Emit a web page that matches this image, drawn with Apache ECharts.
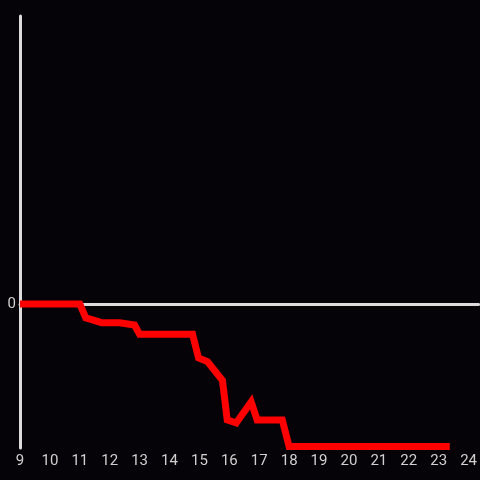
<!DOCTYPE html>
<html>
<head>
<meta charset="utf-8">
<script src="https://cdn.jsdelivr.net/npm/echarts@6/dist/echarts.min.js"></script>
<style>html,body{margin:0;padding:0;background:#050307;}#c{width:480px;height:480px;}</style>
</head>
<body>
<div id="c"></div>
<script>
var hours = [9, 11.0, 11.2, 11.73, 12.33, 12.83, 13.0, 14.77, 14.97, 15.27, 15.77, 15.93, 16.23, 16.73, 16.93, 17.77, 18.0, 23.37];
var values = [0, 0, -0.097, -0.13, -0.13, -0.146, -0.21, -0.21, -0.375, -0.40, -0.53, -0.805, -0.826, -0.68, -0.805, -0.805, -0.99, -0.99];
var xMin = 9, xMax = 24.333;
var yMin = -1, yMax = 2;

var chart = echarts.init(document.getElementById('c'), null, {renderer: 'canvas'});
var labelColor = '#d0d0d0';
chart.setOption({
  backgroundColor: '#050307',
  animation: false,
  grid: {left: 20, right: 0, top: 16, bottom: 32},
  xAxis: [{
    type: 'value', min: xMin, max: xMax, interval: 1,
    axisLine: {show: true, onZero: true, lineStyle: {color: '#dcdcdc', width: 3}},
    axisTick: {show: false}, axisLabel: {show: false}, splitLine: {show: false}
  }, {
    type: 'value', min: xMin, max: xMax, interval: 1, position: 'bottom',
    axisLine: {show: false, onZero: false}, axisTick: {show: false}, splitLine: {show: false},
    axisLabel: {show: true, color: labelColor, fontSize: 15, margin: 6, showMaxLabel: false,
      fontFamily: 'Roboto, sans-serif',
      formatter: function (v) { return Number.isInteger(v) ? String(v) : ''; }}
  }],
  yAxis: {
    type: 'value', min: yMin, max: yMax, interval: 1,
    axisLine: {show: true, onZero: false, lineStyle: {color: '#dcdcdc', width: 3}},
    axisTick: {show: false}, splitLine: {show: false},
    axisLabel: {color: labelColor, fontSize: 15, margin: 4, padding: [2, 0, 0, 0],
      fontFamily: 'Roboto, sans-serif',
      formatter: function (v) { return v === 0 ? '0' : ''; }}
  },
  series: [{
    type: 'line', xAxisIndex: 0,
    data: hours.map(function (h, i) { return [h, values[i]]; }),
    symbol: 'none', smooth: false, z: 5,
    lineStyle: {color: '#ff0000', width: 7, join: 'miter'}
  }]
});
</script>
</body>
</html>
